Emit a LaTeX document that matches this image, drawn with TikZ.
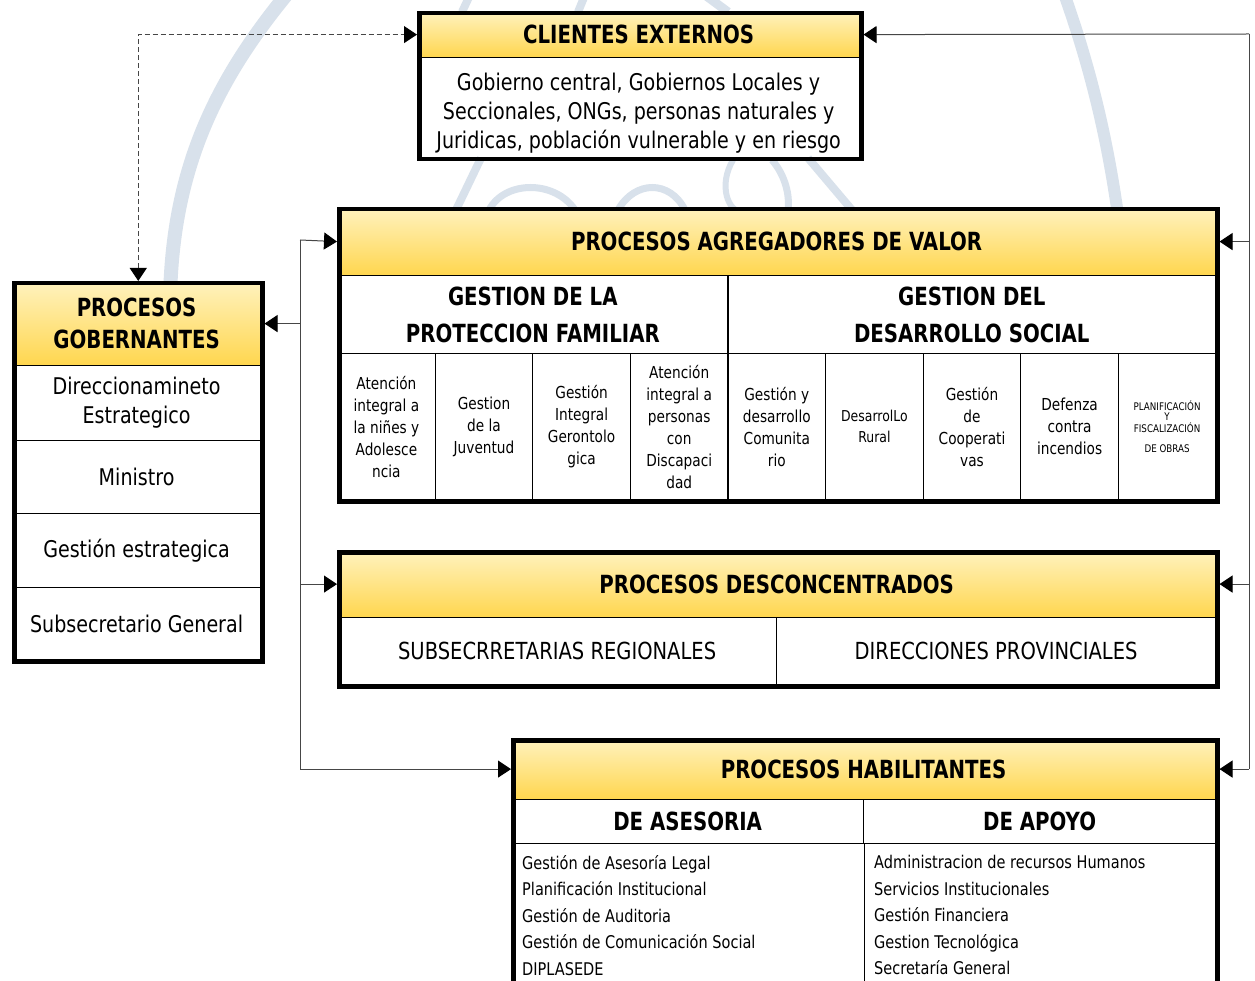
\documentclass[tikz,border=0pt]{standalone}
\usepackage{fontspec}
\setmainfont{DejaVu Sans}[FakeStretch=0.83,BoldFeatures={FakeStretch=0.79}]
\usetikzlibrary{arrows.meta}
\definecolor{hdtop}{RGB}{255,242,190}
\definecolor{hdbot}{RGB}{255,214,78}
\definecolor{wm}{RGB}{216,225,235}
\definecolor{lnk}{RGB}{70,70,70}
\tikzset{
  frame/.style={draw=black,line width=4.5pt,inner sep=0pt,anchor=north west},
  hdr/.style={top color=hdtop,bottom color=hdbot,draw=black,line width=1.2pt,inner sep=0pt,anchor=north west,align=center,font=\bfseries\fontsize{25}{32}\selectfont},
  cell/.style={draw=black,line width=1.2pt,inner sep=1pt,anchor=north west,align=center},
  body/.style={font=\fontsize{23}{29}\selectfont},
  small/.style={font=\fontsize{16.5}{22}\selectfont},
  sub/.style={font=\bfseries\fontsize{25}{37}\selectfont},
  list/.style={inner sep=0pt,anchor=north west,align=left,font=\fontsize{17.5}{26.5}\selectfont},
  tip/.style={-{Triangle[length=13pt,width=17pt,color=black]}},
  link/.style={draw=lnk,line width=1pt,tip},
  trunk/.style={draw=lnk,line width=1pt}
}
\begin{document}
\begin{tikzpicture}[x=1pt,y=-1pt]
\useasboundingbox (0,0) rectangle (1255,981);
\clip (0,0) rectangle (1255,981);
\fill[white] (0,0) rectangle (1255,981);
% watermark
\draw[wm,line width=14pt] (170,300) .. controls (172,170) and (215,80) .. (292,-12);
\draw[wm,line width=12pt] (1062,-12) .. controls (1088,60) and (1106,130) .. (1118,215);
\draw[wm,line width=8pt] (481,158) -- (456,210);
\draw[wm,line width=7pt] (489,210) .. controls (505,180) and (555,180) .. (575,210);
\draw[wm,line width=7pt] (618,210) .. controls (635,180) and (670,180) .. (685,210);
\draw[wm,line width=6pt] (733,160) .. controls (718,185) and (728,212) .. (742,212);
\draw[wm,line width=7pt] (772,160) .. controls (785,175) and (790,195) .. (788,210);
\draw[wm,line width=8pt] (808,158) -- (852,210);
\draw[wm,line width=8pt] (470,-5) -- (462,12);
\draw[wm,line width=8pt] (585,-5) -- (578,12);
\draw[wm,line width=9pt] (705,-5) -- (728,12);

% ---------- CLIENTES EXTERNOS
\node[hdr,minimum width=442pt,minimum height=46pt] (clh) at (417,11) {CLIENTES EXTERNOS};
\node[cell,draw=none,body,minimum width=442pt,minimum height=100pt] (clb) at (417,63)
  {Gobierno central, Gobiernos Locales y\\Seccionales, ONGs, personas naturales y\\Juridicas, población vulnerable y en riesgo};
\node[frame,minimum width=442pt,minimum height=146pt] (cl) at (417,11) {};

% ---------- PROCESOS GOBERNANTES
\node[hdr,minimum width=248pt,minimum height=84pt] (goh) at (12,281) {PROCESOS\\GOBERNANTES};
\node[cell,body,minimum width=248pt,minimum height=75pt] (g1) at (12,365) {Direccionamineto\\Estrategico};
\node[cell,body,minimum width=248pt,minimum height=73pt] (g2) at (12,440) {Ministro};
\node[cell,body,minimum width=248pt,minimum height=74pt] (g3) at (12,513) {Gestión estrategica};
\node[cell,body,minimum width=248pt,minimum height=72pt] (g4) at (12,587) {Subsecretario General};
\node[frame,minimum width=248pt,minimum height=378pt] (gob) at (12,281) {};

% ---------- PROCESOS AGREGADORES DE VALOR
\node[hdr,minimum width=878pt,minimum height=68pt] (agh) at (337,207) {PROCESOS AGREGADORES DE VALOR};
\node[cell,sub,minimum width=390.4pt,minimum height=78pt] (as1) at (337,275) {GESTION DE LA\\PROTECCION FAMILIAR};
\node[cell,sub,minimum width=487.6pt,minimum height=78pt] (as2) at (727.4,275) {GESTION DEL\\DESARROLLO SOCIAL};
\node[cell,small,minimum width=97.6pt,minimum height=146pt] (c1) at (337,353) {Atención\\integral a\\la niñes y\\Adolesce\\ncia};
\node[cell,small,minimum width=97.6pt,minimum height=146pt] (c2) at (434.6,353) {Gestion\\de la\\Juventud};
\node[cell,small,minimum width=97.6pt,minimum height=146pt] (c3) at (532.2,353) {Gestión\\Integral\\Gerontolo\\gica};
\node[cell,small,minimum width=97.6pt,minimum height=146pt] (c4) at (629.8,353) {Atención\\integral a\\personas\\con\\Discapaci\\dad};
\node[cell,small,minimum width=97.6pt,minimum height=146pt] (c5) at (727.4,353) {Gestión y\\desarrollo\\Comunita\\rio};
\node[cell,font=\fontsize{15}{21}\selectfont,minimum width=97.6pt,minimum height=146pt] (c6) at (825,353) {DesarrolLo\\Rural};
\node[cell,small,minimum width=97.6pt,minimum height=146pt] (c7) at (922.6,353) {Gestión\\de\\Cooperati\\vas};
\node[cell,small,minimum width=97.6pt,minimum height=146pt] (c8) at (1020.2,353) {Defenza\\contra\\incendios};
\node[cell,font=\fontsize{10.5}{11}\selectfont,minimum width=97.4pt,minimum height=146pt] (c9) at (1117.8,353) {PLANIFICACIÓN\\[-1pt]Y\\[1pt]FISCALIZACIÓN\\[9pt]DE OBRAS};
\node[frame,minimum width=878pt,minimum height=292pt] (agr) at (337,207) {};

% ---------- PROCESOS DESCONCENTRADOS
\node[hdr,minimum width=878pt,minimum height=67pt] (deh) at (337,550) {PROCESOS DESCONCENTRADOS};
\node[cell,font=\fontsize{23.5}{29}\selectfont,minimum width=439pt,minimum height=67pt] (d1) at (337,617) {SUBSECRRETARIAS REGIONALES};
\node[cell,font=\fontsize{23.5}{29}\selectfont,minimum width=439pt,minimum height=67pt] (d2) at (776,617) {DIRECCIONES PROVINCIALES};
\node[frame,minimum width=878pt,minimum height=134pt] (des) at (337,550) {};

% ---------- PROCESOS HABILITANTES
\node[hdr,minimum width=704pt,minimum height=61pt] (hah) at (511,738) {PROCESOS HABILITANTES};
\node[cell,sub,minimum width=352pt,minimum height=44pt] (hs1) at (511,799) {DE ASESORIA};
\node[cell,sub,minimum width=352pt,minimum height=44pt] (hs2) at (863,799) {DE APOYO};
\draw[line width=1.2pt] (hs1.south east) -- ++(0,160);
\node[list] (hl1) at (522,855) {Gestión de Asesoría Legal\\Planificación Institucional\\Gestión de Auditoria\\Gestión de Comunicación Social\\DIPLASEDE};
\node[list] (hl2) at (874,855) {Administracion de recursos Humanos\\Servicios Institucionales\\Gestión Financiera\\Gestion Tecnológica\\Secretaría General};
\node[frame,minimum width=704pt,minimum height=262pt] (hab) at (511,738) {};

% ---------- connectors
\draw[draw=lnk,line width=1pt,dash pattern=on 5pt off 3pt,{Triangle[length=13pt,width=17pt,color=black]}-{Triangle[length=13pt,width=17pt,color=black]}] (gob.north) |- (cl.west |- clh.west);

\coordinate (Ltop) at (300,240);
\coordinate (Lbot) at (Ltop |- hah.west);
\draw[trunk] (Ltop) -- (Lbot);
\draw[link] (Ltop) -- (agr.west |- agh.west);
\draw[link] (Ltop |- goh.east) -- (gob.east |- goh.east);
\draw[link] (Ltop |- deh.west) -- (des.west |- deh.west);
\draw[link] (Lbot) -- (hab.west |- hah.west);

\coordinate (Rtop) at (1249,34);
\coordinate (Rbot) at (Rtop |- hah.east);
\draw[trunk] (Rtop) -- (Rbot);
\draw[link] (Rtop) -- (cl.east |- clh.east);
\draw[link] (Rtop |- agh.east) -- (agr.east |- agh.east);
\draw[link] (Rtop |- deh.east) -- (des.east |- deh.east);
\draw[link] (Rbot) -- (hab.east |- hah.east);
\end{tikzpicture}
\end{document}
